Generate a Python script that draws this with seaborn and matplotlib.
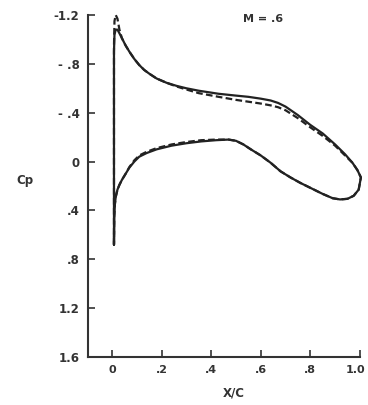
import numpy as np
import pandas as pd
import matplotlib
matplotlib.use("Agg")
import matplotlib.pyplot as plt
from matplotlib.transforms import ScaledTranslation
import seaborn as sns

# upper surface, leading edge -> trailing edge
upper_x = [0.008, 0.008, 0.010, 0.015, 0.022, 0.03, 0.04, 0.055, 0.07, 0.09, 0.11, 0.13,
           0.15, 0.18, 0.22, 0.26, 0.30, 0.35, 0.43, 0.50, 0.55, 0.60, 0.64, 0.67,
           0.70, 0.75, 0.80, 0.85, 0.90, 0.94, 0.97, 0.99, 1.004]
upper_cp_solid = [0.68, -0.90, -1.04, -1.08, -1.08, -1.05, -1.01, -0.95, -0.90, -0.84, -0.79, -0.75,
                  -0.72, -0.68, -0.645, -0.62, -0.60, -0.58, -0.555, -0.54, -0.53, -0.515, -0.50, -0.48,
                  -0.45, -0.38, -0.30, -0.23, -0.14, -0.06, 0.01, 0.07, 0.13]
upper_cp_dashed = [0.68, -0.95, -1.15, -1.20, -1.17, -1.08, -1.01, -0.95, -0.90, -0.84, -0.79, -0.75,
                   -0.72, -0.68, -0.645, -0.615, -0.59, -0.56, -0.53, -0.505, -0.49, -0.475, -0.46, -0.445,
                   -0.42, -0.355, -0.28, -0.21, -0.13, -0.05, 0.01, 0.07, 0.13]

# lower surface, leading edge -> trailing edge
lower_x = [0.008, 0.009, 0.011, 0.015, 0.022, 0.03, 0.04, 0.055, 0.07, 0.09, 0.11, 0.14,
           0.18, 0.24, 0.30, 0.36, 0.42, 0.47, 0.50, 0.53, 0.56, 0.60, 0.64, 0.68,
           0.72, 0.76, 0.80, 0.85, 0.89, 0.92, 0.95, 0.975, 0.995, 1.004]
lower_cp_solid = [0.68, 0.45, 0.36, 0.29, 0.23, 0.19, 0.15, 0.10, 0.05, 0.00, -0.04, -0.07,
                  -0.10, -0.13, -0.15, -0.165, -0.175, -0.18, -0.17, -0.14, -0.10, -0.05, 0.01, 0.08,
                  0.13, 0.175, 0.215, 0.265, 0.30, 0.31, 0.305, 0.28, 0.23, 0.13]
lower_cp_dashed = [0.68, 0.45, 0.36, 0.29, 0.23, 0.19, 0.15, 0.10, 0.045, -0.01, -0.05, -0.08,
                   -0.11, -0.14, -0.16, -0.175, -0.18, -0.18, -0.17, -0.14, -0.10, -0.05, 0.01, 0.08,
                   0.13, 0.175, 0.215, 0.265, 0.30, 0.31, 0.305, 0.28, 0.23, 0.13]

y_ticks = [-1.2, -0.8, -0.4, 0, 0.4, 0.8, 1.2, 1.6]
y_labels = ["-1.2", "- .8", "- .4", "0", ".4", ".8", "1.2", "1.6"]
x_ticks = [0, 0.2, 0.4, 0.6, 0.8, 1.0]
x_labels = ["0", ".2", ".4", ".6", ".8", "1.0"]

def loop(series, ux, ucp, lx, lcp):
    # go round the section: upper to TE, then lower back to LE
    x = list(ux) + list(lx[::-1])
    cp = list(ucp) + list(lcp[::-1])
    return pd.DataFrame({"x": x, "cp": cp, "series": series})

df = pd.concat([
    loop("solid", upper_x, upper_cp_solid, lower_x, lower_cp_solid),
    loop("dashed", upper_x, upper_cp_dashed, lower_x, lower_cp_dashed),
], ignore_index=True)

sns.set_style("ticks")
plt.rcParams["font.family"] = ["DejaVu Sans"]
plt.rcParams["font.weight"] = "bold"

fig = plt.figure(figsize=(3.68, 4.05), dpi=100)
ax = fig.add_axes([0.239, 0.1185, 0.739, 0.8445])

sns.lineplot(data=df, x="x", y="cp", style="series", sort=False, estimator=None,
             dashes={"solid": "", "dashed": (3, 1.5)}, color="#222222",
             linewidth=1.6, legend=False, ax=ax, clip_on=False)

ax.set_xlim(-0.097, 1.0)
ax.set_ylim(1.6, -1.2)
ax.set_xticks(x_ticks)
ax.set_xticklabels(x_labels)
ax.set_yticks(y_ticks)
ax.set_yticklabels(y_labels)
ax.tick_params(direction="in", length=5, width=1.2, labelsize=8.5, pad=6, colors="#333333")
ax.tick_params(axis="x", labelsize=8)
# nudge the last x label so it stays inside the canvas
last = ax.get_xticklabels()[-1]
last.set_transform(last.get_transform() + ScaledTranslation(-3 / 72, 0, fig.dpi_scale_trans))
sns.despine(ax=ax)
for s in ["left", "bottom"]:
    ax.spines[s].set_linewidth(1.5)
    ax.spines[s].set_color("#333333")

ax.set_ylabel("Cp", rotation=0, fontsize=8.5, fontweight="bold", color="#333333", ha="center", va="center")
ax.yaxis.set_label_coords(-0.232, 0.515)
ax.set_xlabel("X/C", fontsize=8.5, fontweight="bold", color="#333333", ha="center", va="center")
ax.xaxis.set_label_coords(0.537, -0.105)
ax.text(0.61, -1.165, "M = .6", ha="center", va="center", fontsize=8, fontweight="bold", color="#333333")

fig.savefig("out.png", dpi=100)
